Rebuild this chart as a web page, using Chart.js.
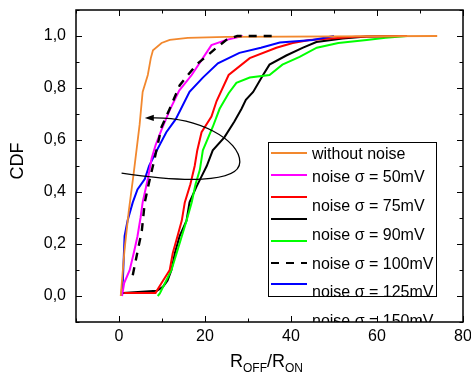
<!DOCTYPE html>
<html>
<head>
<meta charset="utf-8">
<script src="https://cdn.jsdelivr.net/npm/chart.js@4.4.0/dist/chart.umd.min.js"></script>
<style>
html, body { margin: 0; padding: 0; background: #fff; }
</style>
</head>
<body>
<canvas id="cdfChart" width="471" height="375"></canvas>
<script>
// tick values
const xTicks = [0, 20, 40, 60, 80];
const yTicks = [0, 0.2, 0.4, 0.6, 0.8, 1.0];

// CDF curves, [R_OFF/R_ON, CDF]
const withoutNoise = [[0.4,0],[1.3,0.18],[2.3,0.33],[3.4,0.47],[4.8,0.66],[5.5,0.785],[6.7,0.85],[7.4,0.915],[7.9,0.945],[9.9,0.973],[11.8,0.985],[16,0.993],[25,0.997],[74,1.0]];
const noise50 = [[0.7,0],[1.2,0.05],[2.5,0.10],[3.5,0.17],[4.3,0.23],[5.0,0.30],[5.5,0.36],[6.7,0.45],[7.6,0.53],[8.5,0.58],[9.9,0.64],[11.8,0.715],[14,0.79],[16.9,0.85],[19.5,0.915],[21.5,0.965],[25,0.985],[28.8,1.0]];
const noise75 = [[1.2,0.012],[8.5,0.012],[9.9,0.05],[11.8,0.10],[12.5,0.165],[13.6,0.23],[14.6,0.29],[15.3,0.36],[16.6,0.43],[17.6,0.50],[18.2,0.56],[19.2,0.63],[21.5,0.69],[22.7,0.75],[25.5,0.85],[30.4,0.915],[36.6,0.955],[40.4,0.973],[44.3,0.985],[55,0.997],[67,1.0]];
const noise90 = [[0.9,0.012],[8.8,0.02],[10.2,0.035],[11.3,0.06],[12.2,0.10],[13,0.165],[14.1,0.23],[15.7,0.29],[16.4,0.36],[18,0.42],[19.2,0.46],[20.4,0.50],[21.8,0.56],[24.5,0.61],[26.8,0.67],[28.5,0.72],[29.5,0.755],[31.2,0.785],[33.5,0.85],[35,0.89],[38.9,0.925],[42.8,0.955],[45.9,0.977],[52,0.99],[57.6,0.998],[65,1.0]];
const noise100 = [[9.0,0],[9.5,0.01],[11,0.06],[12.2,0.10],[13.4,0.165],[14.6,0.23],[15.7,0.29],[16.9,0.36],[17.8,0.43],[18.8,0.485],[19.5,0.56],[21.8,0.65],[23.4,0.72],[25.5,0.78],[27.3,0.82],[30.4,0.84],[35,0.85],[38,0.89],[42,0.92],[46,0.955],[51,0.973],[57.6,0.985],[62,0.993],[67,1.0]];
const noise125 = [[3.2,0.08],[4.3,0.17],[5.3,0.25],[6.0,0.36],[6.9,0.43],[8.3,0.53],[9.9,0.65],[11.8,0.72],[14.1,0.81],[18,0.89],[22.7,0.955],[25,0.985],[27.5,1.0],[37,1.0]];
const noise150 = [[0.5,0],[0.9,0.06],[1.3,0.23],[2.0,0.29],[3.2,0.36],[4.3,0.41],[6.0,0.45],[7.0,0.50],[8.8,0.56],[11,0.63],[13.2,0.68],[16.4,0.785],[19.5,0.84],[23,0.895],[28,0.935],[33,0.955],[37.4,0.975],[45,0.985],[50,1.0]];

const legendLabels = ['without noise', 'noise \u03c3 = 50mV', 'noise \u03c3 = 75mV', 'noise \u03c3 = 90mV',
  'noise \u03c3 = 100mV', 'noise \u03c3 = 125mV', 'noise \u03c3 = 150mV'];

// loop arrow annotation in data units
const arrowPts = [[0.6,0.473],[14,0.44],[28,0.43],[28.1,0.515],[28.1,0.60],[18.6,0.69],[6.0,0.685]];

const FONT = '"Liberation Sans", Arial, sans-serif';
const toXY = arr => arr.map(p => ({x: p[0], y: p[1]}));

function line(label, data, color, width, dash) {
	return {
		label: label,
		data: toXY(data),
		borderColor: color,
		backgroundColor: color,
		borderWidth: width,
		borderDash: dash || [],
		showLine: true,
		pointRadius: 0,
		tension: 0,
		fill: false,
	};
}

const legendStyles = [
	{color: '#F2882E', dash: []},
	{color: '#FF00FF', dash: []},
	{color: '#FF0000', dash: []},
	{color: '#000000', dash: []},
	{color: '#00FF00', dash: []},
	{color: '#000000', dash: [8, 7]},
	{color: '#0000FF', dash: []},
];

const framePlugin = {
	id: 'frame',
	afterDatasetsDraw(chart) {
		const ctx = chart.ctx;
		const a = chart.chartArea;
		const xs = chart.scales.x, ys = chart.scales.y;
		ctx.save();

		// arrow loop
		const P = arrowPts.map(p => [xs.getPixelForValue(p[0]), ys.getPixelForValue(p[1])]);
		ctx.strokeStyle = '#000';
		ctx.lineWidth = 1.3;
		ctx.beginPath();
		ctx.moveTo(P[0][0], P[0][1]);
		ctx.bezierCurveTo(P[1][0], P[1][1], P[2][0], P[2][1], P[3][0], P[3][1]);
		ctx.bezierCurveTo(P[4][0], P[4][1], P[5][0], P[5][1], P[6][0] + 6, P[6][1]);
		ctx.stroke();
		ctx.fillStyle = '#000';
		ctx.beginPath();
		ctx.moveTo(P[6][0], P[6][1]);
		ctx.lineTo(P[6][0] + 9, P[6][1] - 3.2);
		ctx.lineTo(P[6][0] + 9, P[6][1] + 3.2);
		ctx.closePath();
		ctx.fill();

		// legend box
		ctx.fillStyle = '#fff';
		ctx.fillRect(268, 142, 168, 154);
		ctx.strokeStyle = '#000';
		ctx.lineWidth = 1;
		ctx.strokeRect(268.5, 142.5, 168, 154);
		const lineY = [153, 175, 197, 219, 241, 263, 284];
		const textY = [155, 178, 207, 236, 265, 293, 322];
		ctx.save();
		ctx.beginPath();
		ctx.rect(a.left, a.top, a.right - a.left, a.bottom - a.top);
		ctx.clip();
		legendStyles.forEach((s, i) => {
			ctx.strokeStyle = s.color;
			ctx.lineWidth = 2.2;
			ctx.setLineDash(s.dash);
			ctx.beginPath();
			ctx.moveTo(271, lineY[i]);
			ctx.lineTo(307, lineY[i]);
			ctx.stroke();
		});
		ctx.setLineDash([]);
		ctx.fillStyle = '#000';
		ctx.font = '16px ' + FONT;
		ctx.textBaseline = 'middle';
		ctx.textAlign = 'left';
		legendLabels.forEach((t, i) => ctx.fillText(t, 312, textY[i]));
		ctx.restore();

		// box and inward ticks on all sides
		ctx.strokeStyle = '#000';
		ctx.lineWidth = 1.5;
		ctx.strokeRect(a.left, a.top, a.right - a.left, a.bottom - a.top);
		ctx.lineWidth = 1;
		ctx.beginPath();
		for (let v = -10; v <= 80; v += 10) {
			const px = Math.round(xs.getPixelForValue(v)) + 0.5;
			const len = v % 20 === 0 ? 6 : 3.5;
			ctx.moveTo(px, a.bottom); ctx.lineTo(px, a.bottom - len);
			ctx.moveTo(px, a.top); ctx.lineTo(px, a.top + len);
		}
		for (let k = -1; k <= 11; k++) {
			const py = Math.round(ys.getPixelForValue(k / 10)) + 0.5;
			const len = k % 2 === 0 ? 6 : 3.5;
			ctx.moveTo(a.left, py); ctx.lineTo(a.left + len, py);
			ctx.moveTo(a.right, py); ctx.lineTo(a.right - len, py);
		}
		ctx.stroke();

		// axis titles
		ctx.fillStyle = '#000';
		ctx.textBaseline = 'alphabetic';
		ctx.save();
		ctx.translate(23, 161);
		ctx.rotate(-Math.PI / 2);
		ctx.textAlign = 'center';
		ctx.font = '18px ' + FONT;
		ctx.fillText('CDF', 0, 0);
		ctx.restore();

		ctx.textAlign = 'left';
		let x = 230;
		const parts = [['R', 18, 367], ['OFF', 12, 372], ['/R', 18, 367], ['ON', 12, 372]];
		parts.forEach(p => {
			ctx.font = p[1] + 'px ' + FONT;
			ctx.fillText(p[0], x, p[2]);
			x += ctx.measureText(p[0]).width;
		});
		ctx.restore();
	}
};

const cfg = {
	type: 'scatter',
	data: {
		datasets: [
			line(legendLabels[5], noise125, '#000000', 2.4, [8, 7]),
			line(legendLabels[0], withoutNoise, '#F2882E', 1.8),
			line(legendLabels[1], noise50, '#FF00FF', 2),
			line(legendLabels[6], noise150, '#0000FF', 2),
			line(legendLabels[2], noise75, '#FF0000', 2),
			line(legendLabels[4], noise100, '#00FF00', 2),
			line(legendLabels[3], noise90, '#000000', 2),
		],
	},
	options: {
		responsive: false,
		animation: false,
		layout: { padding: { top: 0, right: 0, left: 0, bottom: 0 } },
		plugins: {
			legend: { display: false },
			tooltip: { enabled: false },
		},
		scales: {
			x: {
				type: 'linear',
				min: -10,
				max: 80,
				afterBuildTicks: s => { s.ticks = xTicks.map(v => ({value: v})); },
				afterFit: s => { s.height = 53; s.paddingRight = 8; },
				grid: { display: false, drawTicks: false },
				border: { display: false },
				ticks: { color: '#000', padding: 5, font: { family: FONT, size: 16 }, maxRotation: 0 },
			},
			y: {
				type: 'linear',
				min: -0.1,
				max: 1.1,
				afterBuildTicks: s => { s.ticks = yTicks.map(v => ({value: v})); },
				afterFit: s => { s.width = 76; s.paddingTop = 10; },
				grid: { display: false, drawTicks: false },
				border: { display: false },
				ticks: {
					color: '#000',
					padding: 10,
					font: { family: FONT, size: 16 },
					callback: v => v.toFixed(1).replace('.', ','),
				},
			},
		},
	},
	plugins: [framePlugin],
};

new Chart(document.getElementById('cdfChart'), cfg);
</script>
</body>
</html>
